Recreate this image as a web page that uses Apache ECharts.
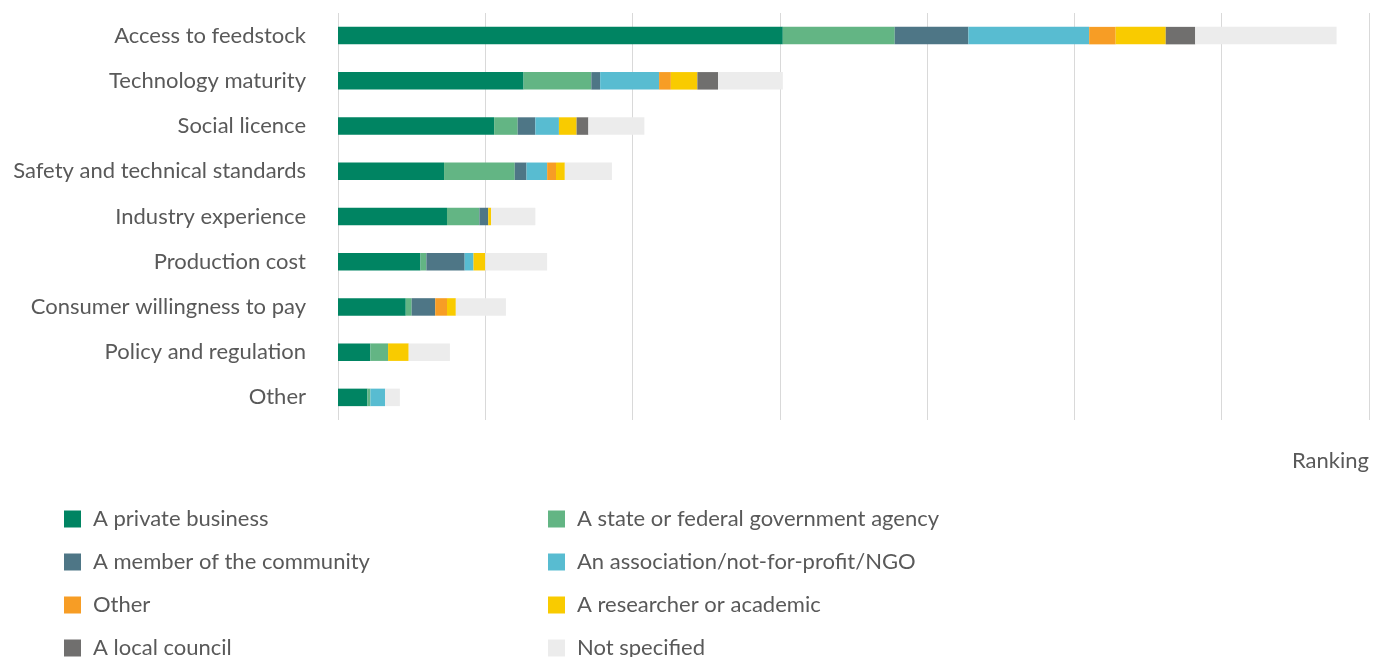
<!DOCTYPE html>
<html>
<head>
<meta charset="utf-8">
<title>Barriers by ranking</title>
<script src="https://cdn.jsdelivr.net/npm/echarts@6/dist/echarts.min.js"></script>
<style>
  html, body { margin: 0; padding: 0; background: #ffffff; }
  #chart { width: 1387px; height: 657px; }
</style>
</head>
<body>
<div id="chart"></div>
<script>
// Barrier categories, top to bottom
const categories = [
  'Access to feedstock',
  'Technology maturity',
  'Social licence',
  'Safety and technical standards',
  'Industry experience',
  'Production cost',
  'Consumer willingness to pay',
  'Policy and regulation',
  'Other'
];

// Ranking scores by respondent type
const privateBusiness = [151, 63, 53, 36, 37, 28, 23, 11, 10];
const stateAgency     = [38, 23, 8, 24, 11, 2, 2, 6, 1];
const community       = [25, 3, 6, 4, 3, 13, 8, 0, 0];
const ngo             = [41, 20, 8, 7, 0, 3, 0, 0, 5];
const otherGroup      = [9, 4, 0, 3, 0, 0, 4, 0, 0];
const researcher      = [17, 9, 6, 3, 1, 4, 3, 7, 0];
const localCouncil    = [10, 7, 4, 0, 0, 0, 0, 0, 0];
const notSpecified    = [48, 22, 19, 16, 15, 21, 17, 14, 5];

const seriesNames = [
  'A private business',
  'A state or federal government agency',
  'A member of the community',
  'An association/not-for-profit/NGO',
  'Other',
  'A researcher or academic',
  'A local council',
  'Not specified'
];
const seriesData = [privateBusiness, stateAgency, community, ngo, otherGroup, researcher, localCouncil, notSpecified];
const seriesColors = ['#008462', '#63B584', '#4E7686', '#58BCD1', '#F79D25', '#F9CB00', '#706F6E', '#ECECEC'];

const textColor = '#595959';
const fontFamily = 'Lato, "Open Sans", sans-serif';
const fontSize = 22;

const chart = echarts.init(document.getElementById('chart'), null, { renderer: 'canvas' });

// Two legend columns, four entries each
const legendCommon = {
  orient: 'vertical',
  icon: 'rect',
  padding: 0,
  height: 170,
  itemWidth: 17,
  itemHeight: 17,
  itemGap: 21,
  selectedMode: false,
  textStyle: { fontSize: fontSize, lineHeight: 22, color: textColor, fontFamily: fontFamily, padding: [0, 0, 0, 7] }
};

chart.setOption({
  animation: false,
  backgroundColor: '#ffffff',
  grid: { left: 338, right: 18, top: 13, bottom: 237, containLabel: false },
  legend: [
    Object.assign({}, legendCommon, {
      left: 64, top: 508,
      data: [seriesNames[0], seriesNames[2], seriesNames[4], seriesNames[6]]
    }),
    Object.assign({}, legendCommon, {
      left: 548, top: 508,
      data: [seriesNames[1], seriesNames[3], seriesNames[5], seriesNames[7]]
    })
  ],
  xAxis: {
    type: 'value',
    min: 0,
    max: 350,
    interval: 50,
    name: 'Ranking',
    nameLocation: 'end',
    nameGap: 0,
    nameTextStyle: {
      fontSize: fontSize, color: textColor, fontFamily: fontFamily,
      align: 'right', verticalAlign: 'top', padding: [30, 0, 0, 0]
    },
    axisLine: { show: false },
    axisTick: { show: false },
    axisLabel: { show: false },
    splitLine: { show: true, lineStyle: { color: '#D9D9D9', width: 1 } }
  },
  yAxis: {
    type: 'category',
    data: categories,
    inverse: true,
    axisLine: { show: false },
    axisTick: { show: false },
    axisLabel: { fontSize: fontSize, color: textColor, fontFamily: fontFamily, margin: 32 }
  },
  series: seriesNames.map((name, i) => ({
    name: name,
    type: 'bar',
    stack: 'total',
    barWidth: 17.5,
    data: seriesData[i],
    itemStyle: { color: seriesColors[i] },
    emphasis: { disabled: true }
  }))
});
</script>
</body>
</html>
